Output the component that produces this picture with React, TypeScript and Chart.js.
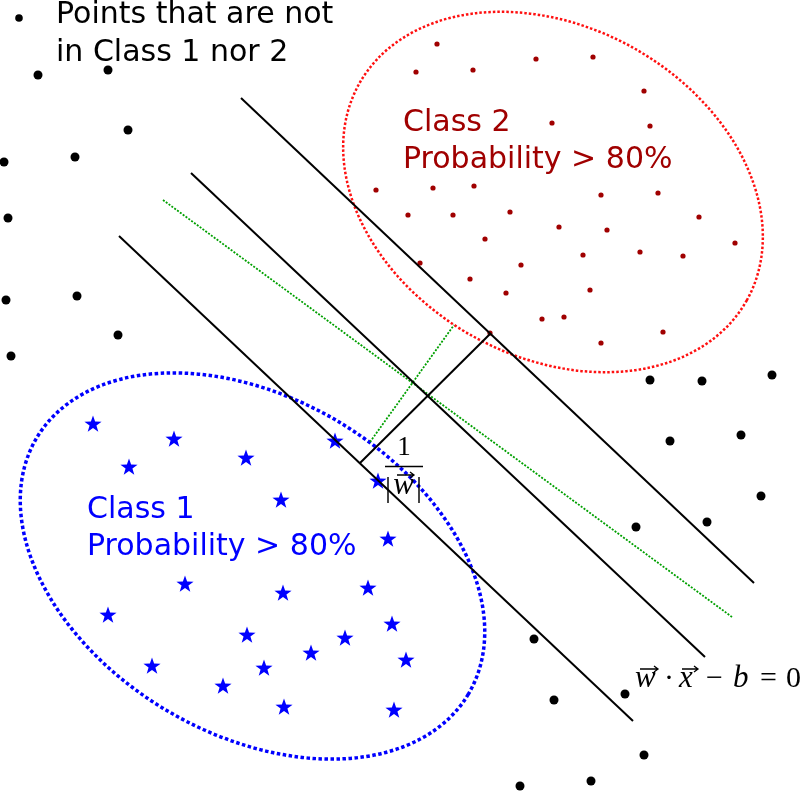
import { useEffect, useRef } from "react";
import { Chart, registerables } from "chart.js";
Chart.register(...registerables);

// Data space: x 0..800, y 0..791 (y axis reversed, top = 0)
const otherPoints: number[][] = [
  [38, 75], [108, 70], [128, 130], [75, 157], [4, 162], [8, 218], [77, 296], [6, 300],
  [118, 335], [11, 356], [650, 380], [702, 381], [772, 375], [670, 441], [741, 435],
  [761, 496], [707, 522], [636, 527], [534, 639], [554, 700], [625, 694], [644, 755],
  [591, 781], [520, 786],
];
const legendMarker: number[][] = [[19, 18]];
const class2Points: number[][] = [
  [437, 44], [416, 72], [473, 70], [536, 59], [593, 57], [644, 91], [552, 123], [650, 126],
  [376, 190], [433, 188], [474, 186], [601, 195], [658, 193], [408, 215], [453, 215],
  [510, 212], [559, 227], [607, 230], [699, 217], [485, 239], [735, 243], [420, 263],
  [583, 255], [640, 252], [683, 256], [521, 265], [470, 279], [590, 290], [506, 293],
  [542, 319], [564, 317], [490, 333], [663, 332], [601, 343],
];
const class1Points: number[][] = [
  [93, 424], [174, 439], [129, 467], [246, 458], [335, 441], [378, 481], [281, 500],
  [388, 539], [185, 584], [283, 593], [368, 588], [108, 615], [392, 624], [247, 635],
  [345, 638], [311, 653], [406, 660], [152, 666], [264, 668], [223, 686], [284, 707],
  [394, 710],
];
const marginUpper: number[][] = [[241, 98], [754, 583]];
const separator: number[][] = [[191, 173], [705, 657]];
const marginLower: number[][] = [[119, 236], [633, 721]];
const altBoundary: number[][] = [[163, 200], [732, 617]];
const marginWidth: number[][] = [[360, 463], [490, 334]];
const altMarginWidth: number[][] = [[370, 442], [454, 325]];
// ellipse regions: [centerX, centerY, semiMajor, semiMinor, rotationDeg]
const class2Region: number[] = [553, 192, 222, 165, 29.2];
const class1Region: number[] = [252.5, 566, 251, 168, 30.7];

const legendLines = ["Points that are not", "in Class 1 nor 2"];
const class2Lines = ["Class 2", "Probability > 80%"];
const class1Lines = ["Class 1", "Probability > 80%"];

const toXY = (a: number[][]) => a.map(([x, y]) => ({ x, y }));

function makeStar(): HTMLCanvasElement {
  const c = document.createElement("canvas");
  c.width = 22;
  c.height = 22;
  const g = c.getContext("2d")!;
  g.beginPath();
  for (let i = 0; i < 10; i++) {
    const r = i % 2 === 0 ? 9 : 3.6;
    const a = -Math.PI / 2 + (i * Math.PI) / 5;
    const px = 11 + r * Math.cos(a);
    const py = 11.5 + r * Math.sin(a);
    if (i === 0) g.moveTo(px, py);
    else g.lineTo(px, py);
  }
  g.closePath();
  g.fillStyle = "#0000ff";
  g.fill();
  return c;
}

const ellipsePlugin = {
  id: "regions",
  beforeDatasetsDraw(chart: any) {
    const { ctx, scales } = chart;
    const X = (v: number) => scales.x.getPixelForValue(v);
    const Y = (v: number) => scales.y.getPixelForValue(v);
    const draw = (e: number[], color: string, w: number, dash: number[]) => {
      const [cx, cy, a, b, deg] = e;
      ctx.save();
      ctx.beginPath();
      ctx.ellipse(X(cx), Y(cy), Math.abs(X(cx + a) - X(cx)), Math.abs(Y(cy + b) - Y(cy)), (deg * Math.PI) / 180, 0, Math.PI * 2);
      ctx.strokeStyle = color;
      ctx.lineWidth = w;
      ctx.setLineDash(dash);
      ctx.stroke();
      ctx.restore();
    };
    draw(class2Region, "#ff1010", 2.5, [2.5, 2]);
    draw(class1Region, "#0000ff", 3.5, [3.5, 2.5]);
  },
};

const textPlugin = {
  id: "texts",
  afterDatasetsDraw(chart: any) {
    const { ctx, scales } = chart;
    const X = (v: number) => scales.x.getPixelForValue(v);
    const Y = (v: number) => scales.y.getPixelForValue(v);
    ctx.save();
    ctx.textBaseline = "alphabetic";
    ctx.textAlign = "left";
    const sans = "30px 'DejaVu Sans'";
    ctx.font = sans;
    ctx.fillStyle = "#000";
    ctx.fillText(legendLines[0], X(56), Y(23));
    ctx.fillText(legendLines[1], X(56), Y(61));
    ctx.fillStyle = "#a00000";
    ctx.fillText(class2Lines[0], X(403), Y(131));
    ctx.fillText(class2Lines[1], X(403), Y(168));
    ctx.fillStyle = "#0000ff";
    ctx.fillText(class1Lines[0], X(87), Y(518));
    ctx.fillText(class1Lines[1], X(87), Y(555));

    // math: 1 / |w|
    ctx.fillStyle = "#000";
    ctx.strokeStyle = "#000";
    const serif = "30px 'Liberation Serif'";
    const serifIt = "italic 31px 'Liberation Serif'";
    ctx.font = "27px 'Liberation Serif'";
    ctx.textAlign = "center";
    ctx.fillText("1", X(404), Y(455));
    ctx.lineWidth = 1.3;
    ctx.beginPath();
    ctx.moveTo(X(385), Y(466.5));
    ctx.lineTo(X(423), Y(466.5));
    ctx.stroke();
    ctx.font = "30px 'Liberation Serif'";
    ctx.fillText("|", X(388), Y(497));
    ctx.fillText("|", X(419), Y(497));
    ctx.font = serifIt;
    ctx.fillText("w", X(403.5), Y(494));
    const arrow = (x0: number, x1: number, y: number) => {
      ctx.lineWidth = 1.3;
      ctx.beginPath();
      ctx.moveTo(X(x0), Y(y));
      ctx.lineTo(X(x1), Y(y));
      ctx.moveTo(X(x1 - 4), Y(y - 3));
      ctx.lineTo(X(x1), Y(y));
      ctx.lineTo(X(x1 - 4), Y(y + 3));
      ctx.stroke();
    };
    arrow(397, 414, 475);

    // equation: w . x - b = 0
    ctx.textAlign = "left";
    ctx.font = serifIt;
    ctx.fillText("w", X(635), Y(687));
    arrow(640, 658, 669);
    ctx.font = serif;
    ctx.fillText("·", X(664), Y(687));
    ctx.font = serifIt;
    ctx.fillText("x", X(679), Y(687));
    arrow(682, 698, 669);
    ctx.font = serif;
    ctx.fillText("−", X(706), Y(687));
    ctx.font = serifIt;
    ctx.fillText("b", X(733), Y(687));
    ctx.font = serif;
    ctx.fillText("=", X(760), Y(687));
    ctx.fillText("0", X(786), Y(687));
    ctx.restore();
  },
};

export default function App() {
  const ref = useRef<HTMLCanvasElement | null>(null);
  useEffect(() => {
    document.body.style.margin = "0";
    const star = makeStar();
    const lineDs = (label: string, pts: number[][], color: string, width: number, dash: number[] = []) => ({
      type: "line" as const,
      label,
      data: toXY(pts),
      borderColor: color,
      borderWidth: width,
      borderDash: dash,
      pointRadius: 0,
      fill: false,
      tension: 0,
    });
    const chart = new Chart(ref.current!, {
      type: "scatter",
      data: {
        datasets: [
          lineDs("margin upper", marginUpper, "#000", 2),
          lineDs("separator", separator, "#000", 2),
          lineDs("margin lower", marginLower, "#000", 2),
          lineDs("margin width", marginWidth, "#000", 2),
          lineDs("alt boundary", altBoundary, "#00a000", 1.8, [2, 1.5]),
          lineDs("alt margin", altMarginWidth, "#00a000", 1.8, [2, 1.5]),
          {
            label: "other",
            data: toXY(otherPoints),
            pointRadius: 4.5,
            pointBackgroundColor: "#000",
            pointBorderWidth: 0,
            clip: false,
          } as any,
          {
            label: "legend",
            data: toXY(legendMarker),
            pointRadius: 3.8,
            pointBackgroundColor: "#000",
            pointBorderWidth: 0,
            clip: false,
          } as any,
          {
            label: "class 2",
            data: toXY(class2Points),
            pointRadius: 2.6,
            pointBackgroundColor: "#a00000",
            pointBorderWidth: 0,
          },
          {
            label: "class 1",
            data: toXY(class1Points),
            pointStyle: star,
            pointRadius: 10,
          } as any,
        ],
      },
      options: {
        animation: false,
        responsive: false,
        devicePixelRatio: 1,
        layout: { padding: 0, autoPadding: false },
        plugins: { legend: { display: false }, tooltip: { enabled: false } },
        scales: {
          x: { type: "linear", min: 0, max: 800, display: false },
          y: { type: "linear", min: 0, max: 791, reverse: true, display: false },
        },
      },
      plugins: [ellipsePlugin, textPlugin],
    });
    return () => chart.destroy();
  }, []);
  return (
    <div style={{ width: 800, height: 791, background: "#fff" }}>
      <canvas ref={ref} width={800} height={791} style={{ display: "block" }} />
    </div>
  );
}
